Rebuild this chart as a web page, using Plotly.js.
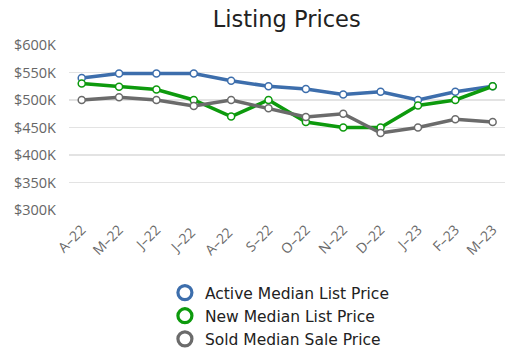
<!DOCTYPE html>
<html><head><meta charset="utf-8">
<script src="https://cdn.plot.ly/plotly-3.0.1.min.js"></script>
<style>html,body{margin:0;padding:0;background:#fff}#chart{width:512px;height:360px}</style>
</head><body><div id="chart"></div>
<script>
const months = ["A–22","M–22","J–22","J–22 ","A–22 ","S–22","O–22","N–22","D–22","J–23","F–23","M–23"];
const activeMedianList = [540,548,548,548,535,525,520,510,515,500,515,525];
const newMedianList = [530,524,519,500,470,500,460,450,450,490,500,525];
const soldMedianSale = [500,505,500,489,500,485,469,475,440,450,465,460];
const seriesNames = ["Active Median List Price","New Median List Price","Sold Median Sale Price"];
const colors = ["#3d6eac","#0d9a0d","#6b6b6b"];
const series = [activeMedianList,newMedianList,soldMedianSale];
const xs = months.map((m,i)=>i);
const traces = [];
series.forEach((s,k)=>{
  traces.push({x:xs,y:s,type:"scatter",mode:"lines+markers",showlegend:false,hoverinfo:"skip",
    line:{color:colors[k],width:3.5},
    marker:{size:7,color:"#fff",line:{color:colors[k],width:1.5}}});
});
series.forEach((s,k)=>{
  traces.push({x:[null],y:[null],type:"scatter",mode:"markers",name:seriesNames[k],legendgroup:"g"+k,
    marker:{size:14,color:"#fff",line:{color:colors[k],width:3.2}}});
});
const layout = {
  width:512,height:360,
  margin:{l:69,r:7,t:45,b:0},
  paper_bgcolor:"#fff",plot_bgcolor:"#fff",
  title:{text:"Listing Prices",font:{family:"DejaVu Sans",size:22.5,color:"#222"},x:0.56,xanchor:"center",y:0.97,yanchor:"top"},
  xaxis:{range:[-0.34,11.33],tickvals:xs,ticktext:months,tickangle:-45,showgrid:false,zeroline:false,showline:false,
    automargin:false,ticks:"",ticklabelstandoff:8,tickfont:{family:"Open Sans",size:14,color:"#6a6a6a"}},
  yaxis:{domain:[0.4762,1],range:[300,600],dtick:50,tick0:300,tickprefix:"$",ticksuffix:"K",showgrid:true,gridcolor:"#e3e3e3",gridwidth:1.3,
    automargin:false,zeroline:false,showline:false,ticks:"",ticklabelstandoff:12,tickfont:{family:"Open Sans",size:14.5,color:"#666"}},
  showlegend:true,
  legend:{orientation:"v",x:0.22,xanchor:"left",y:0.2667,yanchor:"top",
    font:{family:"DejaVu Sans",size:15.5,color:"#222"},tracegroupgap:0,itemclick:false}
};
Plotly.newPlot("chart",traces,layout,{staticPlot:true,displayModeBar:false});
</script></body></html>
